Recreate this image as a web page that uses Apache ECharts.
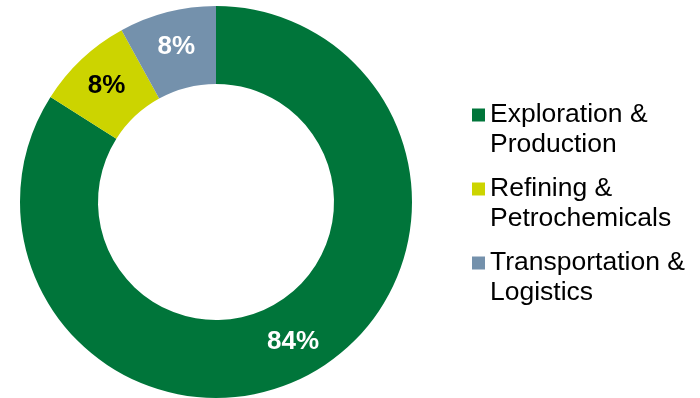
<!DOCTYPE html>
<html>
<head>
<meta charset="utf-8">
<script src="https://cdn.jsdelivr.net/npm/echarts@6/dist/echarts.min.js"></script>
<style>
  html, body { margin: 0; padding: 0; background: #ffffff; }
  #chart { width: 700px; height: 398px; }
</style>
</head>
<body>
<div id="chart"></div>
<script>
// Business segments and their share (percent)
const segments = ['Exploration & Production', 'Refining & Petrochemicals', 'Transportation & Logistics'];
const shares = [84, 8, 8];
const segmentColors = ['#00753a', '#ccd400', '#7491ac'];
const labelColors = ['#ffffff', '#000000', '#ffffff'];

const chart = echarts.init(document.getElementById('chart'), null, { renderer: 'canvas' });

const pieData = segments.map((name, i) => ({
  name: name,
  value: shares[i],
  itemStyle: { color: segmentColors[i] },
  label: { color: labelColors[i] }
}));

chart.setOption({
  animation: false,
  backgroundColor: '#ffffff',
  legend: {
    orient: 'vertical',
    left: 472,
    top: 70,
    padding: 0,
    itemWidth: 13,
    itemHeight: 13,
    itemGap: -16,
    icon: 'rect',
    selectedMode: false,
    data: segments,
    // blank first line keeps the marker beside the first line of each entry
    formatter: name => '\n' + name.replace(' & ', ' &\n'),
    textStyle: {
      fontFamily: 'Liberation Sans, Arial, sans-serif',
      fontSize: 26.5,
      lineHeight: 30,
      color: '#000000'
    }
  },
  series: [{
    type: 'pie',
    center: [216, 202],
    radius: [118, 196],
    startAngle: 90,
    clockwise: true,
    avoidLabelOverlap: false,
    itemStyle: { borderWidth: 0 },
    emphasis: { disabled: true },
    label: {
      show: true,
      position: 'inside',
      formatter: '{c}%',
      fontFamily: 'Liberation Sans, Arial, sans-serif',
      fontWeight: 'bold',
      fontSize: 26
    },
    labelLine: { show: false },
    data: pieData
  }]
});
</script>
</body>
</html>
